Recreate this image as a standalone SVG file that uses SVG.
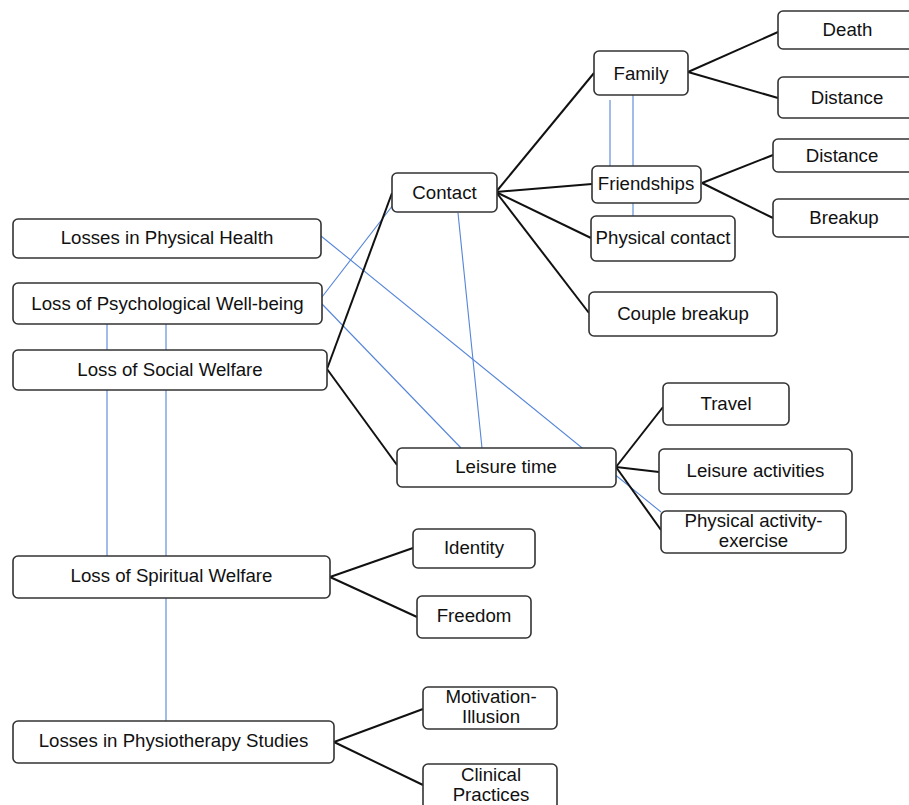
<svg xmlns="http://www.w3.org/2000/svg" width="909" height="805" viewBox="0 0 909 805">
<style>
.box{fill:#fff;stroke:#333;stroke-width:1.6}
.t{font-family:"Liberation Sans",Arial,sans-serif;font-size:18.67px;fill:#111;text-anchor:middle}
.k{stroke:#111;stroke-width:2;fill:none}
.b{stroke:#5585d9;stroke-width:1.1;fill:none}
</style>
<rect width="909" height="805" fill="#fff"/>
<g id="connectors">
<line class="b" x1="321" y1="236" x2="661" y2="512"/>
<line class="b" x1="322" y1="297" x2="393" y2="205"/>
<line class="b" x1="322" y1="304" x2="461" y2="448"/>
<line class="b" x1="458" y1="213" x2="482" y2="448"/>
<line class="b" x1="107" y1="324" x2="107" y2="350"/>
<line class="b" x1="166" y1="324" x2="166" y2="350"/>
<line class="b" x1="107" y1="390" x2="107" y2="556"/>
<line class="b" x1="166" y1="390" x2="166" y2="556"/>
<line class="b" x1="166" y1="598" x2="166" y2="721"/>
<line class="b" x1="610" y1="100" x2="610" y2="166"/>
<line class="b" x1="633" y1="95" x2="633" y2="166"/>
<line class="b" x1="633" y1="203" x2="633" y2="216"/>
<line class="k" x1="327" y1="369" x2="392" y2="193"/>
<line class="k" x1="327" y1="369" x2="397" y2="465"/>
<line class="k" x1="496" y1="192" x2="594" y2="73"/>
<line class="k" x1="496" y1="192" x2="592" y2="184"/>
<line class="k" x1="496" y1="192" x2="591" y2="238"/>
<line class="k" x1="496" y1="192" x2="589" y2="313"/>
<line class="k" x1="688" y1="72" x2="778" y2="32"/>
<line class="k" x1="688" y1="72" x2="778" y2="98"/>
<line class="k" x1="702" y1="183" x2="773" y2="155"/>
<line class="k" x1="702" y1="183" x2="773" y2="218"/>
<line class="k" x1="616" y1="467" x2="663" y2="407"/>
<line class="k" x1="616" y1="467" x2="659" y2="472"/>
<line class="k" x1="616" y1="467" x2="661" y2="530"/>
<line class="k" x1="330" y1="577" x2="413" y2="548"/>
<line class="k" x1="330" y1="577" x2="417" y2="617"/>
<line class="k" x1="334" y1="742" x2="423" y2="709"/>
<line class="k" x1="334" y1="742" x2="423" y2="785"/>
</g>
<g id="n-physical-health"><rect class="box" x="13" y="219" width="308" height="39" rx="5"/><text class="t" x="167" y="244">Losses in Physical Health</text></g>
<g id="n-psych"><rect class="box" x="13" y="283" width="309" height="41" rx="5"/><text class="t" x="167.5" y="310">Loss of Psychological Well-being</text></g>
<g id="n-social"><rect class="box" x="13" y="350" width="314" height="40" rx="5"/><text class="t" x="170" y="376">Loss of Social Welfare</text></g>
<g id="n-spiritual"><rect class="box" x="13" y="556" width="317" height="42" rx="5"/><text class="t" x="171.5" y="582">Loss of Spiritual Welfare</text></g>
<g id="n-physio"><rect class="box" x="13" y="721" width="321" height="42" rx="5"/><text class="t" x="173.5" y="747">Losses in Physiotherapy Studies</text></g>
<g id="n-contact"><rect class="box" x="392" y="173" width="105" height="39" rx="5"/><text class="t" x="444.5" y="199">Contact</text></g>
<g id="n-family"><rect class="box" x="594" y="51" width="94" height="44" rx="5"/><text class="t" x="641" y="80">Family</text></g>
<g id="n-friendships"><rect class="box" x="592" y="166" width="109" height="37" rx="5"/><text class="t" x="646" y="190">Friendships</text></g>
<g id="n-physical-contact"><rect class="box" x="591" y="216" width="144" height="45" rx="5"/><text class="t" x="663" y="244">Physical contact</text></g>
<g id="n-couple"><rect class="box" x="589" y="292" width="188" height="44" rx="5"/><text class="t" x="683" y="320">Couple breakup</text></g>
<g id="n-death"><rect class="box" x="778" y="11" width="140" height="38" rx="5"/><text class="t" x="847.5" y="36">Death</text></g>
<g id="n-distance-family"><rect class="box" x="778" y="77" width="140" height="41" rx="5"/><text class="t" x="847" y="104">Distance</text></g>
<g id="n-distance-friends"><rect class="box" x="773" y="139" width="145" height="33" rx="5"/><text class="t" x="842" y="162">Distance</text></g>
<g id="n-breakup"><rect class="box" x="773" y="199" width="145" height="38" rx="5"/><text class="t" x="844" y="224">Breakup</text></g>
<g id="n-leisure"><rect class="box" x="397" y="448" width="219" height="39" rx="5"/><text class="t" x="506" y="473">Leisure time</text></g>
<g id="n-travel"><rect class="box" x="663" y="383" width="126" height="42" rx="5"/><text class="t" x="726" y="410">Travel</text></g>
<g id="n-leisure-activities"><rect class="box" x="659" y="449" width="193" height="45" rx="5"/><text class="t" x="755.5" y="477">Leisure activities</text></g>
<g id="n-physical-activity"><rect class="box" x="661" y="511" width="185" height="42" rx="5"/><text class="t" x="753.5" y="527">Physical activity-</text><text class="t" x="753.5" y="547">exercise</text></g>
<g id="n-identity"><rect class="box" x="413" y="529" width="122" height="39" rx="5"/><text class="t" x="474" y="554">Identity</text></g>
<g id="n-freedom"><rect class="box" x="417" y="596" width="114" height="42" rx="5"/><text class="t" x="474" y="622">Freedom</text></g>
<g id="n-motivation"><rect class="box" x="423" y="687" width="134" height="42" rx="5"/><text class="t" x="491" y="703">Motivation-</text><text class="t" x="491" y="723">Illusion</text></g>
<g id="n-clinical"><rect class="box" x="423" y="764" width="134" height="50" rx="5"/><text class="t" x="491" y="781">Clinical</text><text class="t" x="491" y="801">Practices</text></g>
</svg>
